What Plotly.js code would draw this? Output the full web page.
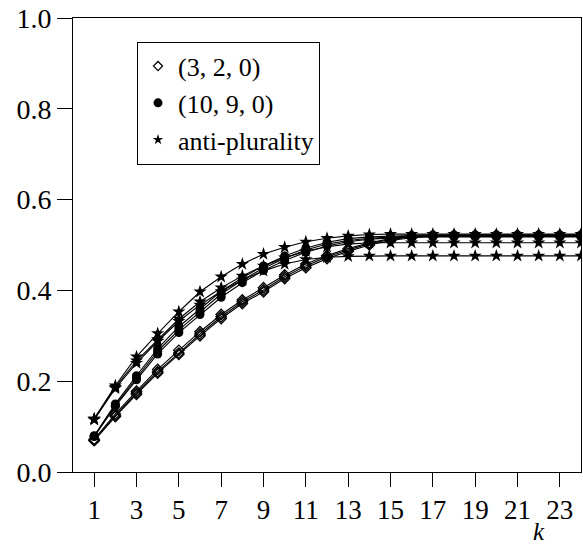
<!DOCTYPE html>
<html>
<head>
<meta charset="utf-8">
<script src="https://cdn.plot.ly/plotly-3.0.1.min.js"></script>
<style>html,body{margin:0;padding:0;background:#fff;}#chart{width:583px;height:545px;}</style>
</head>
<body>
<div id="chart"></div>
<script>
const k = [1,2,3,4,5,6,7,8,9,10,11,12,13,14,15,16,17,18,19,20,21,22,23,24];
const xTicks = [1,3,5,7,9,11,13,15,17,19,21,23];
const yTicks = [0,0.2,0.4,0.6,0.8,1.0];
const yTickText = ["0.0","0.2","0.4","0.6","0.8","1.0"];

// (3,2,0) series
const dia1 = [0.070,0.124,0.174,0.221,0.262,0.304,0.342,0.375,0.401,0.430,0.454,0.474,0.489,0.503,0.512,0.518,0.520,0.520,0.520,0.520,0.520,0.520,0.520,0.520];
const dia2 = [0.072,0.128,0.178,0.226,0.268,0.309,0.347,0.379,0.406,0.434,0.458,0.477,0.492,0.505,0.514,0.519,0.521,0.522,0.522,0.522,0.522,0.522,0.522,0.522];
const dia3 = [0.069,0.122,0.171,0.218,0.259,0.300,0.338,0.371,0.397,0.426,0.450,0.470,0.486,0.500,0.510,0.516,0.519,0.519,0.519,0.519,0.519,0.519,0.519,0.519];
// (10,9,0) series
const dot1 = [0.079,0.147,0.207,0.266,0.313,0.353,0.392,0.423,0.449,0.471,0.489,0.502,0.510,0.515,0.518,0.520,0.520,0.520,0.520,0.520,0.520,0.520,0.520,0.520];
const dot2 = [0.080,0.150,0.212,0.272,0.320,0.360,0.398,0.428,0.454,0.476,0.493,0.506,0.514,0.518,0.520,0.521,0.522,0.522,0.522,0.522,0.522,0.522,0.522,0.522];
const dot3 = [0.078,0.145,0.203,0.260,0.307,0.347,0.385,0.417,0.444,0.466,0.484,0.498,0.507,0.513,0.516,0.518,0.518,0.518,0.518,0.518,0.518,0.518,0.518,0.518];
// anti-plurality series
const starA = [0.117,0.190,0.254,0.305,0.353,0.397,0.430,0.458,0.480,0.495,0.507,0.515,0.520,0.523,0.524,0.524,0.524,0.524,0.524,0.524,0.524,0.524,0.524,0.524];
const starB = [0.117,0.187,0.245,0.292,0.337,0.375,0.406,0.432,0.454,0.472,0.486,0.496,0.502,0.505,0.505,0.505,0.505,0.505,0.505,0.505,0.505,0.505,0.505,0.505];
const starC = [0.115,0.184,0.240,0.288,0.332,0.368,0.398,0.423,0.443,0.458,0.468,0.473,0.475,0.476,0.476,0.476,0.476,0.476,0.476,0.476,0.476,0.476,0.476,0.476];

const legendNames = ["(3, 2, 0)", "(10, 9, 0)", "anti-plurality"];

const diaMarker = {symbol:'diamond-open', size:8, color:'#000', line:{width:1.3,color:'#000'}};
const dotMarker = {symbol:'circle', size:9, color:'#000'};
const starMarker = {symbol:'star', size:10, color:'#000', line:{width:0}};

function line(y, marker){
  return {x:k, y:y, mode:'lines+markers', line:{color:'#000', width:1.1}, marker:marker, showlegend:false, hoverinfo:'skip'};
}
function leg(name, marker){
  return {x:[null], y:[null], mode:'markers', name:name, marker:marker, showlegend:true};
}
const traces = [
  line(dia1, diaMarker), line(dia2, diaMarker), line(dia3, diaMarker),
  line(dot1, dotMarker), line(dot2, dotMarker), line(dot3, dotMarker),
  line(starA, starMarker), line(starB, starMarker), line(starC, starMarker),
  leg(legendNames[0], {symbol:'diamond-open', size:7, color:'#000', line:{width:1.2,color:'#000'}}),
  leg(legendNames[1], {symbol:'circle', size:9, color:'#000'}),
  leg(legendNames[2], {symbol:'star', size:8, color:'#000'})
];

const serif = '"Liberation Serif", "Times New Roman", serif';
const layout = {
  width:583, height:545,
  margin:{l:73, r:2, t:18, b:73},
  paper_bgcolor:'#fff', plot_bgcolor:'#fff',
  font:{family:serif, size:27, color:'#000'},
  showlegend:true,
  legend:{x:0.126, y:0.948, xanchor:'left', yanchor:'top', bgcolor:'#fff', bordercolor:'#000', borderwidth:1,
          font:{family:serif, size:26, color:'#000'}, tracegroupgap:0},
  xaxis:{range:[0,24], tickvals:xTicks, ticktext:xTicks.map(String), ticks:'outside', ticklen:14, tickwidth:1, tickcolor:'#000',
         showline:true, linecolor:'#000', linewidth:1, mirror:true, showgrid:false, zeroline:false,
         tickfont:{family:serif, size:27, color:'#000'}},
  yaxis:{range:[0,1], tickvals:yTicks, ticktext:yTickText, ticks:'outside', ticklen:15, tickwidth:1, tickcolor:'#000',
         showline:true, linecolor:'#000', linewidth:1, mirror:true, showgrid:false, zeroline:false,
         tickfont:{family:serif, size:28, color:'#000'}},
  annotations:[{xref:'paper', yref:'paper', x:0.918, y:-0.131, text:'<i>k</i>', showarrow:false,
                font:{family:serif, size:25, color:'#000'}, xanchor:'center', yanchor:'middle'}]
};
Plotly.newPlot('chart', traces, layout, {displayModeBar:false, staticPlot:true});
</script>
</body>
</html>
